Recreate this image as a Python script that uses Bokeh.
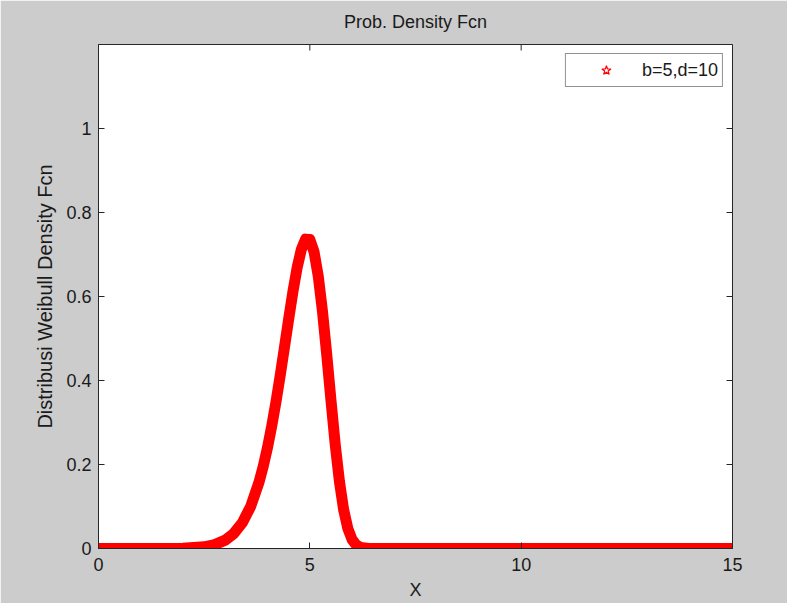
import math
from bokeh.plotting import figure
from bokeh.models import Range1d, FixedTicker, Legend, LegendItem
from bokeh.embed import file_html
from bokeh.resources import INLINE

# Weibull density values (b=5, d=10)
x_vals = [0, 1, 2, 2.5, 2.75, 3.0, 3.2, 3.4, 3.6, 3.8, 3.9, 4.0, 4.1, 4.2, 4.3,
          4.4, 4.5, 4.6, 4.7, 4.8, 4.9, 5.0, 5.1, 5.2, 5.3, 5.4, 5.5, 5.6, 5.7,
          5.8, 5.9, 6.0, 6.1, 6.2, 6.4, 7, 8, 10, 12, 15]
y_vals = [0, 0, 0.0005, 0.0039, 0.0092, 0.0200, 0.0356, 0.0609, 0.1002, 0.1587,
          0.1967, 0.2411, 0.2922, 0.3496, 0.4125, 0.4791, 0.5468, 0.6116, 0.6688,
          0.7124, 0.7366, 0.7358, 0.7063, 0.6478, 0.5638, 0.4616, 0.3527, 0.2484,
          0.1597, 0.0923, 0.0473, 0.0211, 0.0081, 0.0026, 0.0001, 0, 0, 0, 0, 0]

x_ticks = [0, 5, 10, 15]
x_tick_labels = ["0", "5", "10", "15"]
y_ticks = [0, 0.2, 0.4, 0.6, 0.8, 1.0]
y_tick_labels = ["0", "0.2", "0.4", "0.6", "0.8", "1"]
x_min, x_max = 0, 15
y_min, y_max = 0, 1.2

series_label = "b=5,d=10"
title_text = "Prob. Density Fcn"
x_label = "X"
y_label = "Distribusi Weibull Density Fcn"

FONT = "Liberation Sans"
TXT = "#1a1a1a"
AX = "#262626"
FS = "18px"

p = figure(width=787, height=603, x_range=Range1d(x_min, x_max),
           y_range=Range1d(y_min, y_max),
           output_backend="svg", toolbar_location=None, title=title_text)
p.min_border_left = 98
p.min_border_right = 55
p.min_border_top = 41
p.min_border_bottom = 55
p.border_fill_color = "#cccccc"
p.background_fill_color = "white"
p.outline_line_color = AX
p.grid.visible = False

p.title.align = "center"
p.title.vertical_align = "top"
p.title.text_font = FONT
p.title.text_font_size = FS
p.title.text_font_style = "normal"
p.title.text_color = TXT
p.title.standoff = 22

def style_axis(ax, ticks, labels):
    ax.ticker = FixedTicker(ticks=ticks)
    ax.major_tick_in = 6
    ax.major_tick_out = 0
    ax.minor_tick_in = 0
    ax.minor_tick_out = 0
    ax.axis_line_color = AX
    ax.major_tick_line_color = AX
    ax.major_label_text_font = FONT
    ax.major_label_text_color = TXT
    ax.major_label_overrides = {t: l for t, l in zip(ticks, labels)}
    ax.major_label_text_font_size = FS
    ax.axis_label_text_font = FONT
    ax.axis_label_text_font_style = "normal"
    ax.axis_label_text_color = TXT

style_axis(p.xaxis[0], x_ticks, x_tick_labels)
style_axis(p.yaxis[0], y_ticks, y_tick_labels)
p.xaxis[0].major_label_standoff = 9
p.yaxis[0].major_label_standoff = 7
p.xaxis[0].axis_label = x_label
p.xaxis[0].axis_label_text_font_size = FS
p.xaxis[0].axis_label_standoff = 6
p.yaxis[0].axis_label = y_label
p.yaxis[0].axis_label_text_font_size = "20px"
p.yaxis[0].axis_label_standoff = 7

# inward tick marks on the top and right sides of the box (half clipped by frame)
p.scatter(x_ticks, [y_max] * len(x_ticks), marker="dash", angle=math.pi / 2,
          size=12, line_color=AX, line_width=1)
p.scatter([x_max] * len(y_ticks), y_ticks, marker="dash",
          size=12, line_color=AX, line_width=1)

p.line(x_vals, y_vals, line_color="red", line_width=11, line_join="round", line_cap="round")
stars = p.scatter(x_vals, y_vals, marker="star", size=9, line_color="red",
                  fill_alpha=0, line_width=1.2)

legend = Legend(items=[LegendItem(label=series_label, renderers=[stars])],
                location="top_right")
legend.margin = 9
legend.padding = 4
legend.spacing = 0
legend.glyph_width = 72
legend.glyph_height = 24
legend.label_height = 24
legend.label_standoff = 0
legend.label_text_font = FONT
legend.label_text_font_size = FS
legend.label_text_color = TXT
legend.border_line_color = AX
legend.border_line_width = 1
legend.background_fill_color = "white"
legend.background_fill_alpha = 1
p.add_layout(legend)

open("out.html", "w").write(file_html(p, INLINE))
